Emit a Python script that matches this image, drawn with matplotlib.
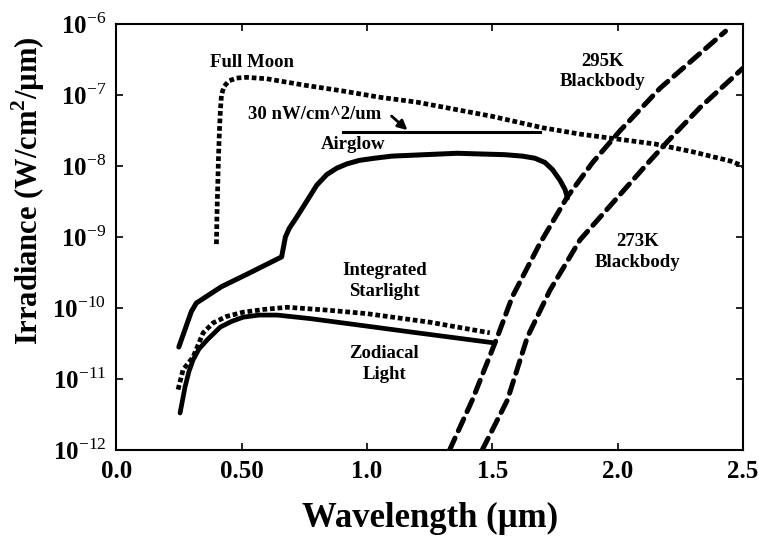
import numpy as np
import matplotlib
matplotlib.use('Agg')
import matplotlib.pyplot as plt
import matplotlib.ticker as ticker

plt.rcParams['font.family'] = ['Liberation Serif', 'DejaVu Serif']
plt.rcParams['mathtext.fontset'] = 'custom'
plt.rcParams['mathtext.rm'] = 'Liberation Serif'
plt.rcParams['mathtext.bf'] = 'Liberation Serif:bold'

# values (x in um, y as log10 of W/cm^2/um)
moon_x = [0.40, 0.402, 0.405, 0.408, 0.412, 0.416, 0.42, 0.43, 0.45, 0.48, 0.52, 0.60,
          0.75, 0.90, 1.05, 1.20, 1.35, 1.50, 1.70, 1.85, 2.0, 2.15, 2.30, 2.45, 2.50]
moon_log = [-9.1, -8.7, -8.3, -7.9, -7.5, -7.2, -7.0, -6.88, -6.8, -6.76, -6.75, -6.77,
            -6.86, -6.94, -7.03, -7.10, -7.20, -7.30, -7.46, -7.55, -7.62, -7.69, -7.80, -7.93, -8.0]

airglow_x = [0.25, 0.27, 0.30, 0.32, 0.42, 0.53, 0.66, 0.675, 0.69, 0.72, 0.77, 0.80, 0.84,
             0.88, 0.92, 0.97, 1.03, 1.1, 1.36, 1.55, 1.62, 1.67, 1.71, 1.74, 1.77, 1.79, 1.80]
airglow_log = [-10.55, -10.35, -10.05, -9.93, -9.70, -9.51, -9.28, -9.0, -8.88, -8.72, -8.44, -8.27, -8.12,
               -8.03, -7.97, -7.92, -7.89, -7.86, -7.82, -7.84, -7.86, -7.89, -7.95, -8.05, -8.20, -8.33, -8.45]

zodiacal_x = [0.255, 0.275, 0.29, 0.307, 0.33, 0.363, 0.415, 0.46, 0.506, 0.57, 0.642,
              0.774, 0.945, 1.2, 1.503]
zodiacal_log = [-11.48, -11.11, -10.90, -10.73, -10.58, -10.45, -10.27, -10.19, -10.13, -10.10, -10.10,
                -10.15, -10.23, -10.35, -10.49]

starlight_x = [0.247, 0.267, 0.307, 0.347, 0.387, 0.44, 0.506, 0.59, 0.682, 0.841, 1.0, 1.25, 1.49]
starlight_log = [-11.15, -10.87, -10.69, -10.35, -10.21, -10.12, -10.06, -10.02, -9.99, -10.03, -10.08, -10.20, -10.35]

bb295_x = [1.33, 1.42, 1.52, 1.58, 1.69, 1.80, 1.90, 2.01, 2.17, 2.30, 2.43]
bb295_log = [-12.0, -11.3, -10.41, -9.84, -9.09, -8.43, -7.95, -7.5, -6.9, -6.5, -6.1]

bb273_x = [1.46, 1.56, 1.64, 1.73, 1.85, 1.98, 2.12, 2.20, 2.33, 2.50]
bb273_log = [-12.0, -11.3, -10.41, -9.75, -9.04, -8.52, -7.96, -7.65, -7.17, -6.62]

ref_x = [0.905, 1.69]
ref_level = 3e-8

x_ticks = [0.0, 0.5, 1.0, 1.5, 2.0, 2.5]
x_labels = ['0.0', '0.50', '1.0', '1.5', '2.0', '2.5']
y_ticks = [1e-12, 1e-11, 1e-10, 1e-9, 1e-8, 1e-7, 1e-6]
y_labels = ['10$^{-12}$', '10$^{-11}$', '10$^{-10}$', '10$^{-9}$', '10$^{-8}$', '10$^{-7}$', '10$^{-6}$']

fig = plt.figure(figsize=(7.59, 5.48), dpi=100)
ax = fig.add_axes([0.153, 0.179, 0.826, 0.777])

dot = dict(color='black', lw=3.4, dashes=(1, 0.6), dash_capstyle='butt')
dash = dict(color='black', lw=3.6, dashes=(2.6, 1.6), dash_capstyle='round')

ax.plot(moon_x, 10 ** np.array(moon_log), **dot)
ax.plot(starlight_x, 10 ** np.array(starlight_log), **dot)
ax.plot(airglow_x, 10 ** np.array(airglow_log), color='black', lw=3.6,
        solid_capstyle='round', solid_joinstyle='round')
ax.plot(zodiacal_x, 10 ** np.array(zodiacal_log), color='black', lw=3.4,
        solid_capstyle='round', solid_joinstyle='round')
ax.plot(bb295_x, 10 ** np.array(bb295_log), **dash)
ax.plot(bb273_x, 10 ** np.array(bb273_log), **dash)
ax.plot(ref_x, [ref_level, ref_level], color='black', lw=2.2)

ax.set_yscale('log')
ax.set_xlim(0, 2.5)
ax.set_ylim(1e-12, 1e-6)
ax.xaxis.set_major_locator(ticker.FixedLocator(x_ticks))
ax.xaxis.set_major_formatter(ticker.FixedFormatter(x_labels))
ax.yaxis.set_major_locator(ticker.FixedLocator(y_ticks))
ax.yaxis.set_major_formatter(ticker.FixedFormatter(y_labels))
ax.yaxis.set_minor_locator(ticker.NullLocator())
ax.tick_params(direction='in', top=True, right=True, length=5, width=1.2,
               labelsize=18, pad=7)
for lab in ax.get_xticklabels() + ax.get_yticklabels():
    lab.set_fontweight('bold')
for s in ax.spines.values():
    s.set_linewidth(1.5)

ax.set_xlabel('Wavelength (\u00b5m)', fontsize=25, fontweight='bold', labelpad=14)
ax.set_ylabel('Irradiance (W/cm$^{\\mathbf{2}}$/\u00b5m)', fontsize=22, fontweight='bold',
              labelpad=4, y=0.61)

tk = dict(fontsize=13.5, fontweight='bold', ha='center', va='center', linespacing=1.25)
ax.text(0.54, 10 ** -6.54, 'Full Moon', **tk)
ax.text(0.79, 10 ** -7.28, '30 nW/cm^2/um', **tk)
ax.text(0.945, 10 ** -7.70, 'Airglow', **tk)
ax.text(1.07, 10 ** -9.62, 'Integrated\nStarlight', **tk)
ax.text(1.07, 10 ** -10.79, 'Zodiacal\nLight', **tk)
ax.text(1.94, 10 ** -6.67, '295K\nBlackbody', **tk)
ax.text(2.08, 10 ** -9.21, '273K\nBlackbody', **tk)
ax.annotate('', xy=(1.17, 10 ** -7.52), xytext=(1.09, 10 ** -7.27),
            arrowprops=dict(arrowstyle='-|>', color='black', lw=2, mutation_scale=14))

plt.savefig('out.png', dpi=100)
